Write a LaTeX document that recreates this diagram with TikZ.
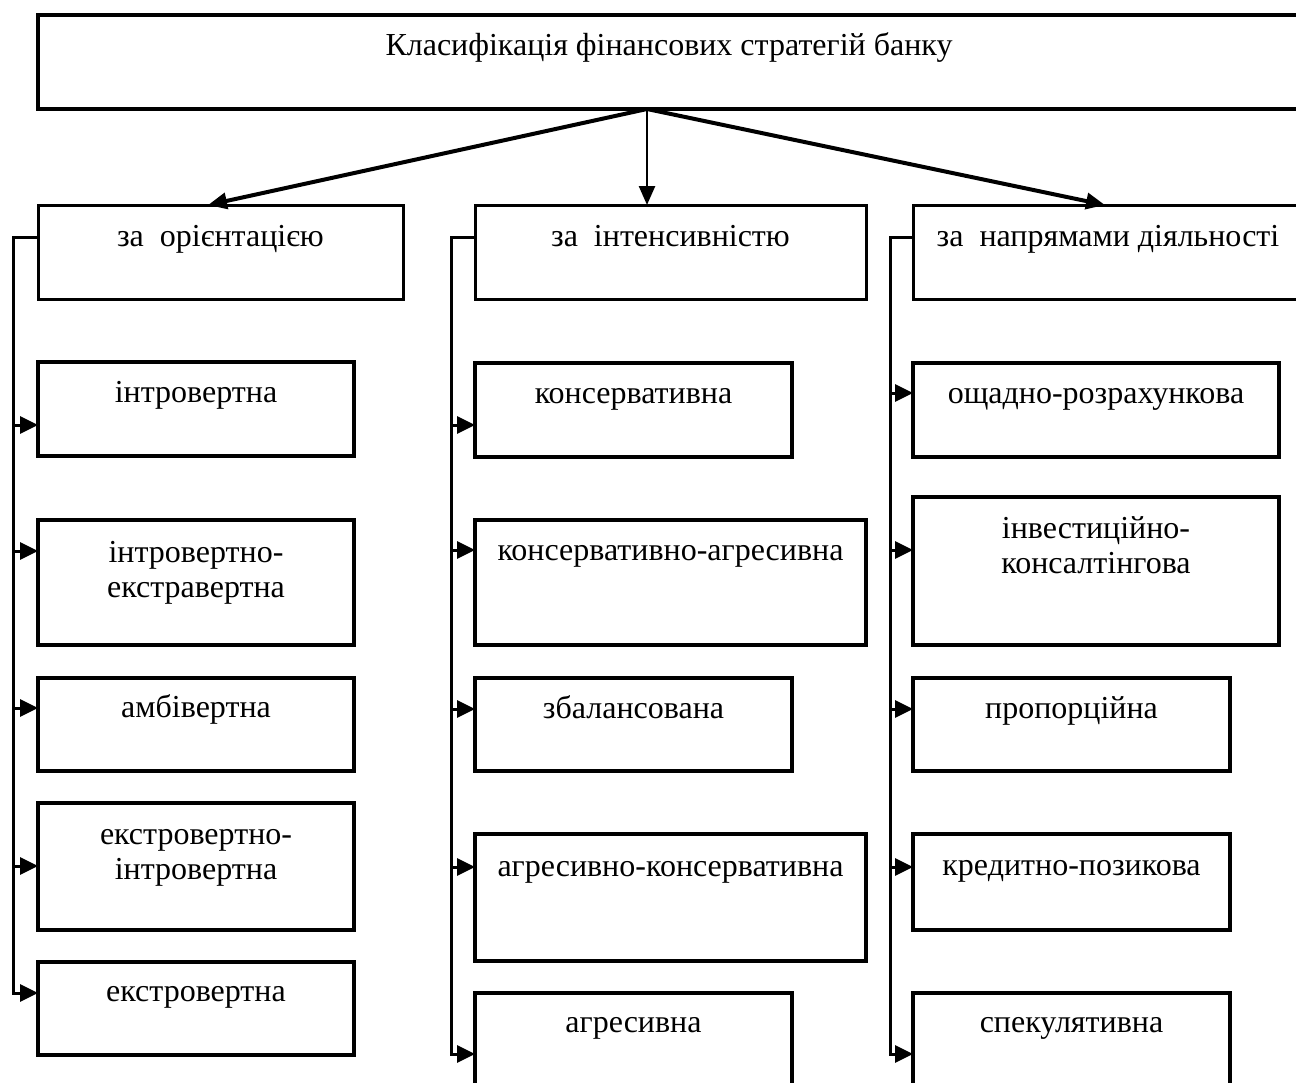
\documentclass[tikz,border=0pt]{standalone}
\usepackage{fontspec}
\setmainfont{Liberation Serif}
\usetikzlibrary{arrows.meta,calc}

\begin{document}
\begin{tikzpicture}[x=1pt,y=-1pt,
  frame/.style={draw, fill=white, inner sep=0pt, outer sep=0pt, anchor=north west},
  headbox/.style={frame, line width=4.5pt},
  groupbox/.style={frame, line width=3pt},
  itembox/.style={frame, line width=3.5pt},
  lbl/.style={font=\fontsize{32}{35}\selectfont, inner sep=0pt, anchor=base, align=center},
  wire/.style={line width=3pt, line join=miter},
  feed/.style={wire, -{Triangle[length=18pt,width=17pt]}},
  spoke/.style={line width=4pt, -{Triangle[length=19pt,width=16pt]}},
]
\useasboundingbox (0,0) rectangle (1296,1082);
\fill[white] (0,0) rectangle (1296,1082);
\clip (0,0) rectangle (1296,1082);

% root of the classification
\node[headbox, minimum width=1262pt, minimum height=94pt] (root) at (38,15) {};
\node[lbl] (root-t) at ($(root.north)+(0,40)$) {Класифікація фінансових стратегій банку};

% classification criteria
\node[groupbox, minimum width=365pt, minimum height=94pt] (orient) at (38,205) {};
\node[groupbox, minimum width=391pt, minimum height=94pt] (intens) at (475,205) {};
\node[groupbox, minimum width=390pt, minimum height=94pt] (direct) at (913,205) {};
\node[lbl] (orient-t) at ($(orient.north)+(0,41)$) {за\ \ орієнтацією};
\node[lbl] (intens-t) at ($(intens.north)+(0,41)$) {за\ \ інтенсивністю};
\node[lbl] (direct-t) at ($(direct.north)+(0,41)$) {за\ \ напрямами діяльності};

% root to criteria
\coordinate (fork) at ($(root.south west)+(609,0)$);
\coordinate (orient-in) at ($(orient.north west)+(170,0)$);
\coordinate (intens-in) at ($(intens.north west)+(172,0)$);
\coordinate (direct-in) at ($(direct.north west)+(192,0)$);
\draw[spoke] (fork) -- (orient-in);
\draw[spoke, line width=2.5pt] (fork) -- (intens-in);
\draw[spoke] (fork) -- (direct-in);

% strategies: name / left x / top y / width / height / arrow offset / last baseline / text
\foreach \n/\x/\y/\w/\h/\d/\b/\t in {
  introv/38/362/316/94/63/40/{інтровертна},
  introext/38/520/316/125/31/77/{інтровертно-\\екстравертна},
  ambiv/38/678/316/93/30/39/{амбівертна},
  extint/38/803/316/127/63/76/{екстровертно-\\інтровертна},
  extrov/38/962/316/93/31/39/{екстровертна},
  cons/475/363/317/94/62/40/{консервативна},
  consagr/475/520/391/125/30/40/{консервативно-агресивна},
  bal/475/678/317/93/31/40/{збалансована},
  agrcons/475/834/391/127/33/42/{агресивно-консервативна},
  agr/475/993/317/150/61/39/{агресивна},
  saving/913/363/366/94/30/40/{ощадно-розрахункова},
  invest/913/497/366/148/53/76/{інвестиційно-\\консалтінгова},
  prop/913/678/317/93/31/40/{пропорційна},
  credit/913/834/317/96/33/41/{кредитно-позикова},
  spec/913/993/317/150/61/39/{спекулятивна}}
{
  \node[itembox, minimum width=\w pt, minimum height=\h pt] (\n) at (\x,\y) {};
  \node[lbl] (\n-t) at ($(\n.north)+(0,\b)$) {\t};
  \coordinate (\n-in) at ($(\n.north west)+(0,\d)$);
}

% branch buses
\coordinate (orient-out) at ($(orient.north west)+(0,32)$);
\coordinate (intens-out) at ($(intens.north west)+(0,32)$);
\coordinate (direct-out) at ($(direct.north west)+(0,32)$);
\coordinate (busA) at (13,237);
\coordinate (busB) at (451,237);
\coordinate (busC) at (890,237);

\draw[feed] (orient-out) -- (busA) -- (busA |- extrov-in) -- (extrov-in);
\foreach \n in {introv,introext,ambiv,extint}
  \draw[feed] (busA |- \n-in) -- (\n-in);

\draw[feed] (intens-out) -- (busB) -- (busB |- agr-in) -- (agr-in);
\foreach \n in {cons,consagr,bal,agrcons}
  \draw[feed] (busB |- \n-in) -- (\n-in);

\draw[feed] (direct-out) -- (busC) -- (busC |- spec-in) -- (spec-in);
\foreach \n in {saving,invest,prop,credit}
  \draw[feed] (busC |- \n-in) -- (\n-in);
\end{tikzpicture}
\end{document}
